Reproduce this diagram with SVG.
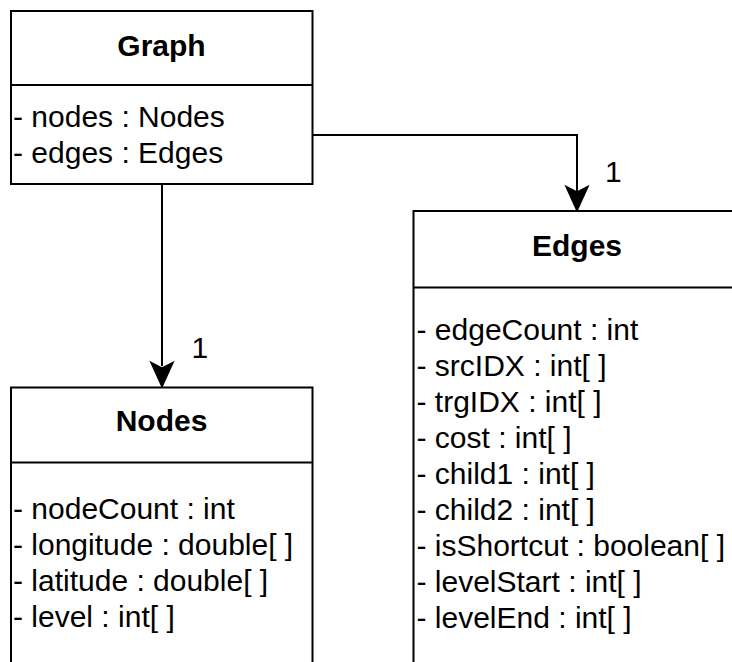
<svg xmlns="http://www.w3.org/2000/svg" width="732" height="662" viewBox="0 0 732 662">
  <style>
    .box { fill: #ffffff; stroke: #000000; stroke-width: 2; }
    .sep { stroke: #000000; stroke-width: 2; }
    .title { font-family: "Liberation Sans", Arial, Helvetica, sans-serif; font-size: 30px; font-weight: bold; text-anchor: middle; fill: #000000; }
    .attr { font-family: "Liberation Sans", Arial, Helvetica, sans-serif; font-size: 30px; fill: #000000; }
    .wire { fill: none; stroke: #000000; stroke-width: 2; }
    .head { fill: #000000; stroke: #000000; stroke-width: 2; stroke-linejoin: miter; }
  </style>
  <rect width="732" height="662" fill="#ffffff"/>

  <!-- associations -->
  <g id="connectors">
    <path class="wire" d="M162,185 V366"/>
    <path class="head" d="M162,386 L151.5,363 L162,368.5 L172.5,363 Z"/>
    <text class="attr" x="191.5" y="358">1</text>

    <path class="wire" d="M313,135 H577 V191"/>
    <path class="head" d="M577,210 L566.5,187 L577,192.5 L587.5,187 Z"/>
    <text class="attr" x="605" y="181.5">1</text>
  </g>

  <!-- class Graph -->
  <g id="graph">
    <rect class="box" x="11" y="11" width="301.5" height="173"/>
    <line class="sep" x1="11" y1="85" x2="312.5" y2="85"/>
    <text class="title" x="161.5" y="56">Graph</text>
    <text class="attr" x="13" y="127">- nodes : Nodes</text>
    <text class="attr" x="13" y="163">- edges : Edges</text>
  </g>

  <!-- class Nodes -->
  <g id="nodes">
    <rect class="box" x="11" y="387.5" width="301.5" height="290"/>
    <line class="sep" x1="11" y1="462.5" x2="312.5" y2="462.5"/>
    <text class="title" x="161.5" y="431">Nodes</text>
    <text class="attr" x="13" y="519">- nodeCount : int</text>
    <text class="attr" x="13" y="555">- longitude : double[ ]</text>
    <text class="attr" x="13" y="591">- latitude : double[ ]</text>
    <text class="attr" x="13" y="627">- level : int[ ]</text>
  </g>

  <!-- class Edges -->
  <g id="edges">
    <rect class="box" x="413.5" y="211" width="327" height="470"/>
    <line class="sep" x1="413.5" y1="287.5" x2="740.5" y2="287.5"/>
    <text class="title" x="577" y="256">Edges</text>
    <text class="attr" x="416.5" y="340">- edgeCount : int</text>
    <text class="attr" x="416.5" y="376">- srcIDX : int[ ]</text>
    <text class="attr" x="416.5" y="412">- trgIDX : int[ ]</text>
    <text class="attr" x="416.5" y="448">- cost : int[ ]</text>
    <text class="attr" x="416.5" y="484">- child1 : int[ ]</text>
    <text class="attr" x="416.5" y="520">- child2 : int[ ]</text>
    <text class="attr" x="416.5" y="556">- isShortcut : boolean[ ]</text>
    <text class="attr" x="416.5" y="592">- levelStart : int[ ]</text>
    <text class="attr" x="416.5" y="628">- levelEnd : int[ ]</text>
  </g>
</svg>
